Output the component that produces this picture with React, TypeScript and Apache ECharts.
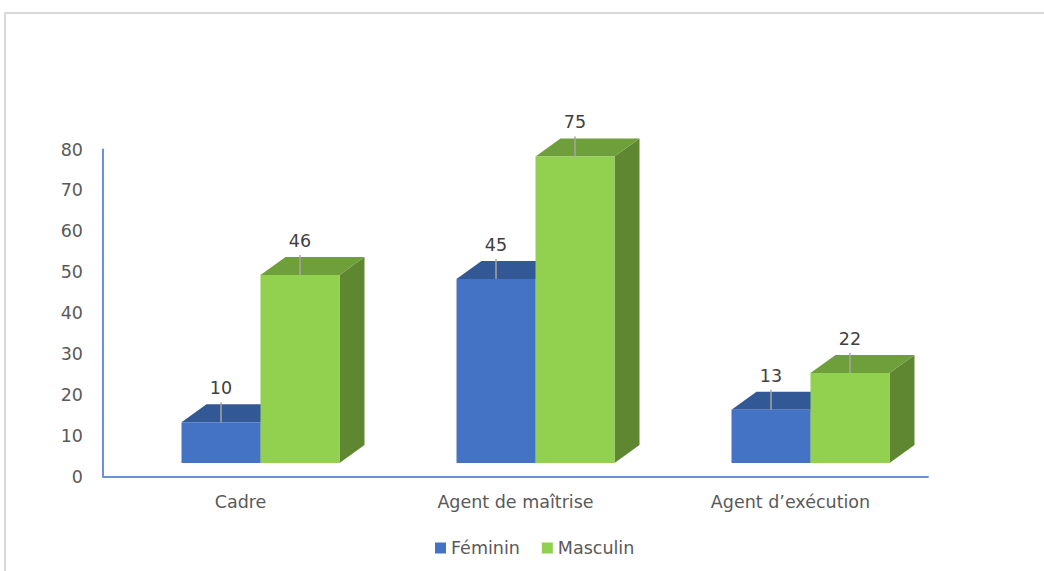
import React, { useEffect, useRef } from "react";
import * as echarts from "echarts";

const categories = ["Cadre", "Agent de maîtrise", "Agent d’exécution"];
const feminin = [10, 45, 13];
const masculin = [46, 75, 22];
const yTicks = { min: 0, max: 80, interval: 10 };

const FONT = "DejaVu Sans";

function makeRender(side: "left" | "right", front: string, top: string, sideCol: string) {
  return (params: any, api: any) => {
    const idx = api.value(0);
    const v = api.value(1);
    const base = api.coord([idx, 0]);
    const tp = api.coord([idx, v]);
    const band = api.size([1, 0])[0];
    const barW = band * (79 / 275);
    const shiftX = band * (20 / 275);
    const shiftY = -13.5;
    const dx = 25;
    const dy = 18;
    const x0 = side === "left" ? base[0] + shiftX - barW : base[0] + shiftX;
    const by = base[1] + shiftY;
    const ty = tp[1] + shiftY;
    const cx = x0 + barW / 2;
    const labelY = ty - 34;
    return {
      type: "group",
      children: [
        {
          type: "polygon",
          shape: {
            points: [
              [x0 + barW, ty],
              [x0 + barW + dx, ty - dy],
              [x0 + barW + dx, by - dy],
              [x0 + barW, by],
            ],
          },
          style: { fill: sideCol },
        },
        {
          type: "polygon",
          shape: {
            points: [
              [x0, ty],
              [x0 + dx, ty - dy],
              [x0 + barW + dx, ty - dy],
              [x0 + barW, ty],
            ],
          },
          style: { fill: top },
        },
        {
          type: "rect",
          shape: { x: x0, y: ty, width: barW, height: by - ty },
          style: { fill: front },
        },
        {
          type: "line",
          shape: { x1: cx, y1: ty, x2: cx, y2: labelY + 14 },
          style: { stroke: "#A6A6A6", lineWidth: 1.5 },
        },
        {
          type: "text",
          x: cx,
          y: labelY,
          style: {
            text: String(v),
            fill: "#404040",
            font: `17.5px "${FONT}"`,
            textAlign: "center",
            textVerticalAlign: "middle",
            align: "center",
            verticalAlign: "middle",
          },
        },
      ],
    };
  };
}

export default function App() {
  const ref = useRef<HTMLDivElement>(null);
  useEffect(() => {
    if (!ref.current) return;
    const chart = echarts.init(ref.current, undefined, { renderer: "svg" });
    chart.setOption({
      animation: false,
      backgroundColor: "#ffffff",
      textStyle: { fontFamily: FONT },
      graphic: [
        {
          type: "rect",
          shape: { x: 5, y: 13, width: 1200, height: 700 },
          style: { fill: "none", stroke: "#D9D9D9", lineWidth: 2 },
          silent: true,
          z: -10,
        },
      ],
      grid: { left: 103, top: 149.5, width: 825, height: 327 },
      legend: {
        left: 430,
        top: 534,
        itemWidth: 11,
        itemHeight: 11,
        itemGap: 22,
        icon: "rect",
        textStyle: { fontFamily: FONT, fontSize: 17.5, color: "#595959", padding: [0, 0, 0, 0] },
        data: ["Féminin", "Masculin"],
      },
      xAxis: {
        type: "category",
        data: categories,
        axisLine: { show: true, lineStyle: { color: "#6A92D8", width: 2 } },
        axisTick: { show: false },
        axisLabel: { color: "#595959", fontFamily: FONT, fontSize: 17.5, margin: 16 },
        splitLine: { show: false },
      },
      yAxis: {
        type: "value",
        min: yTicks.min,
        max: yTicks.max,
        interval: yTicks.interval,
        axisLine: { show: true, lineStyle: { color: "#6A92D8", width: 2 } },
        axisTick: { show: false },
        axisLabel: { color: "#595959", fontFamily: FONT, fontSize: 17.5, margin: 20 },
        splitLine: { show: false },
      },
      series: [
        {
          name: "Féminin",
          type: "custom",
          renderItem: makeRender("left", "#4472C4", "#325896", "#2A4A80"),
          itemStyle: { color: "#4472C4" },
          encode: { x: 0, y: 1 },
          clip: false,
          data: feminin.map((v, i) => [i, v]),
          z: 2,
        },
        {
          name: "Masculin",
          type: "custom",
          renderItem: makeRender("right", "#92D050", "#6F9F3A", "#5F8732"),
          itemStyle: { color: "#92D050" },
          encode: { x: 0, y: 1 },
          clip: false,
          data: masculin.map((v, i) => [i, v]),
          z: 3,
        },
      ],
    });
    return () => chart.dispose();
  }, []);
  return (
    <div
      ref={ref}
      style={{ position: "fixed", left: 0, top: 0, width: 1044, height: 571 }}
    />
  );
}
